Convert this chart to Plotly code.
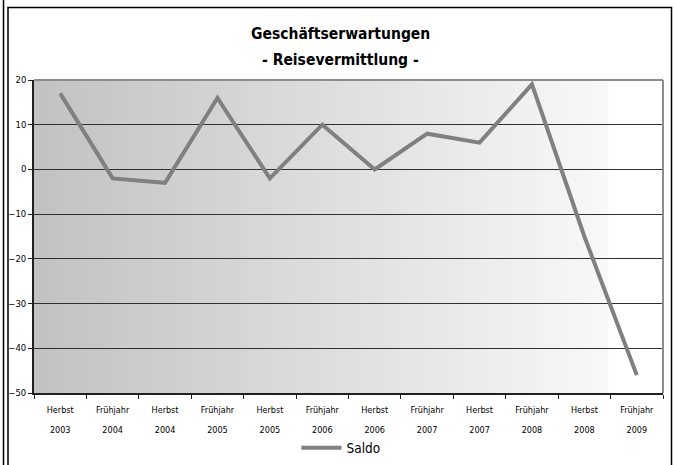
import plotly.graph_objects as go

# Survey periods (season / year) and the balance of business expectations
seasons = ["Herbst", "Frühjahr", "Herbst", "Frühjahr", "Herbst", "Frühjahr",
           "Herbst", "Frühjahr", "Herbst", "Frühjahr", "Herbst", "Frühjahr"]
years = ["2003", "2004", "2004", "2005", "2005", "2006",
         "2006", "2007", "2007", "2008", "2008", "2009"]
saldo = [17, -2, -3, 16, -2, 10, 0, 8, 6, 19, -15, -46]

categories = [f"{s} {y}" for s, y in zip(seasons, years)]
# two-line tick labels; the outer font size sets the wide line spacing
tick_text = [f"<span style='font-size:9px'>{s}</span><br>"
             f"<span style='font-size:9px'>{y}</span>"
             for s, y in zip(seasons, years)]

W, H = 674, 465
ML, MR, MT, MB = 34, 11, 80, 72
PW, PH = W - ML - MR, H - MT - MB


def px_x(x):
    return (x - ML) / PW


def px_y(y):
    return (H - MB - y) / PH


fig = go.Figure()
fig.add_trace(go.Scatter(
    x=categories, y=saldo, mode="lines", name="Saldo",
    line=dict(color="#808080", width=4),
))

shapes = []
# horizontal grey-to-white gradient behind the plot area
n = 80
stop = 0.913
for i in range(n):
    x0 = stop * i / n
    x1 = stop * (i + 1) / n + 0.002
    v = int(round(194 + (248 - 194) * i / (n - 1)))
    shapes.append(dict(type="rect", xref="paper", yref="paper", x0=x0, x1=min(x1, stop),
                       y0=0, y1=1, fillcolor=f"rgb({v},{v},{v})",
                       line=dict(width=0), layer="below"))
# grey top and right edges of the plot area
shapes.append(dict(type="line", xref="paper", yref="paper", x0=0, x1=1, y0=1, y1=1,
                   line=dict(color="#8c8c8c", width=2), layer="above"))
shapes.append(dict(type="line", xref="paper", yref="paper", x0=1, x1=1, y0=0, y1=1,
                   line=dict(color="#8c8c8c", width=2), layer="above"))
# outer chart frame
shapes.append(dict(type="rect", xref="paper", yref="paper",
                   x0=px_x(8), x1=px_x(671.5), y0=px_y(490), y1=px_y(7.5),
                   line=dict(color="#000000", width=1.5), fillcolor="rgba(0,0,0,0)"))
shapes.append(dict(type="line", xref="paper", yref="paper",
                   x0=px_x(3.5), x1=px_x(3.5), y0=px_y(490), y1=px_y(-5),
                   line=dict(color="#000000", width=1.5)))

title_font = dict(family="DejaVu Sans Condensed", size=15.5, color="#000000")
annotations = [
    dict(text="<b>Geschäftserwartungen</b>", xref="paper", yref="paper",
         x=px_x(340), y=px_y(34), showarrow=False, font=title_font,
         xanchor="center", yanchor="middle"),
    dict(text="<b>- Reisevermittlung -</b>", xref="paper", yref="paper",
         x=px_x(340), y=px_y(60), showarrow=False, font=title_font,
         xanchor="center", yanchor="middle"),
]

fig.update_layout(
    width=W, height=H,
    margin=dict(l=ML, r=MR, t=MT, b=MB, pad=0, autoexpand=False),
    paper_bgcolor="#ffffff",
    plot_bgcolor="#ffffff",
    shapes=shapes,
    annotations=annotations,
    showlegend=True,
    legend=dict(orientation="h", x=px_x(341), xref="paper",
                y=1 - 448 / H, yref="container",
                xanchor="center", yanchor="middle",
                font=dict(family="DejaVu Sans Condensed", size=13.5, color="#000000"),
                itemwidth=40,
                bgcolor="rgba(0,0,0,0)"),
    xaxis=dict(
        type="category", showgrid=False, zeroline=False, automargin=False,
        showline=True, linecolor="#202020", linewidth=2,
        ticks="outside", tickson="boundaries", ticklen=4, tickcolor="#202020",
        tickvals=categories, ticktext=tick_text,
        tickfont=dict(family="DejaVu Sans Condensed", size=15, color="#000000"),
        ticklabelstandoff=0,
        range=[-0.5, 11.5], fixedrange=True,
    ),
    yaxis=dict(
        range=[-50, 20], dtick=10, tick0=0, automargin=False,
        showgrid=True, gridcolor="#303030", gridwidth=1,
        zeroline=False,
        showline=True, linecolor="#202020", linewidth=2,
        ticks="outside", ticklen=4, tickcolor="#202020",
        tickfont=dict(family="DejaVu Sans", size=8.5, color="#000000"),
        fixedrange=True,
    ),
)

fig.write_html("out.html")
